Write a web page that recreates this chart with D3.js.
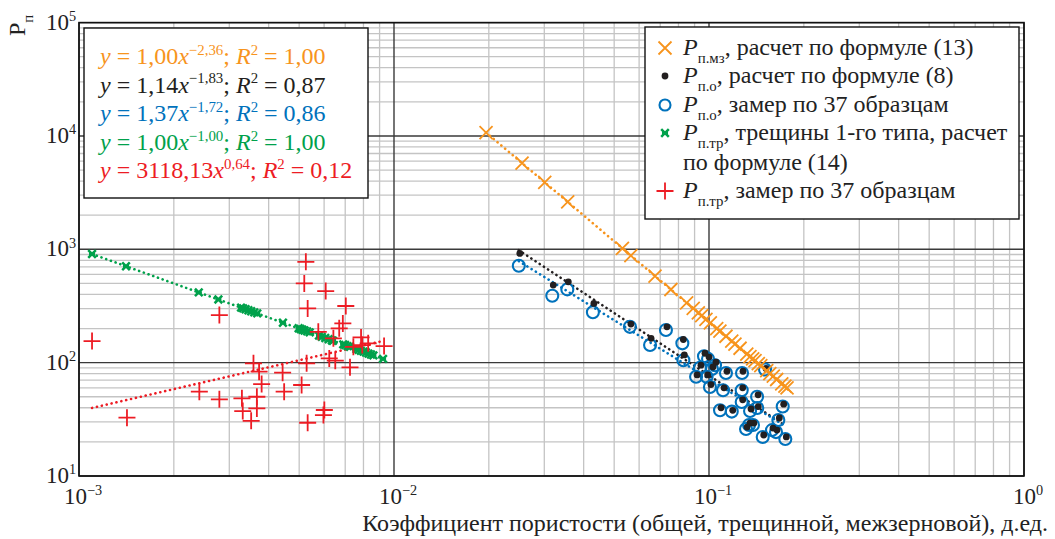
<!DOCTYPE html>
<html>
<head>
<meta charset="utf-8">
<script src="https://cdn.jsdelivr.net/npm/d3@7"></script>
<style>
  body { margin: 0; background: #fff; }
  svg { display: block; font-family: "Liberation Serif", "Times New Roman", serif; }
</style>
</head>
<body>
<svg id="chart" width="1055" height="539"></svg>
<script>
// --- data ---
// P п.мз, расчет по формуле (13)
var mzX = [0.0196, 0.0255, 0.0301, 0.0356, 0.0531, 0.0565, 0.0674, 0.0757, 0.0849, 0.0891, 0.0925, 0.0948, 0.0978, 0.1010,
           0.1058, 0.1083, 0.1132, 0.1181, 0.1209, 0.1255, 0.1318, 0.1349, 0.1376, 0.1400, 0.1434, 0.1460, 0.1525, 0.1560,
           0.1600, 0.1640, 0.1702, 0.1742, 0.1769];
var mzY = [10720, 5745, 3886, 2619, 1020, 881, 581, 442, 337, 301, 275, 260, 241, 224,
           200, 190, 171, 155, 146, 134, 119, 113, 108, 104, 98, 94, 85, 80,
           76, 71, 65, 62, 60];

// P п.о: x общая пористость, расчет (8) и замер
var poX = [0.0249, 0.0318, 0.0355, 0.0428, 0.0561, 0.0650, 0.0730, 0.0823, 0.0829, 0.0910, 0.0993, 0.1045, 0.0983,
           0.1007, 0.1132, 0.1108, 0.1273, 0.1270, 0.1421, 0.1506, 0.1084, 0.1181, 0.1270, 0.1350, 0.1423, 0.1714,
           0.1660, 0.1340, 0.1379, 0.1481, 0.1632, 0.1747, 0.0964, 0.1022, 0.1311, 0.0936, 0.1585];
var poCalcY = [920, 483, 517, 333, 219, 164, 207, 160, 117, 78, 112, 101, 78,
               64, 84, 60, 84, 60, 52, 89, 40, 38, 47, 39, 41, 43,
               32.5, 29.3, 29.3, 23.0, 25.4, 22.1, 121, 91.5, 27.0, 95, 26.5];
var poMeasY = [715, 389, 443, 278, 207, 143, 194, 148, 105, 75, 108, 95, 75,
               61, 81, 57, 81, 57, 50, 87, 38, 37, 45, 37.4, 39.8, 41,
               31.2, 28.2, 28.2, 22.1, 24.4, 21.2, 114, 88, 26.0, 90, 25.4];

// P п.тр, трещины 1-го типа, расчет (14)
var trX = [0.00110, 0.00141, 0.00240, 0.00277, 0.00327, 0.00332, 0.00338, 0.00345, 0.00352, 0.00360, 0.00368, 0.00444,
           0.00498, 0.00505, 0.00512, 0.00520, 0.00530, 0.00540, 0.00578, 0.00590, 0.00605, 0.00620, 0.00635, 0.00640,
           0.00690, 0.00700, 0.00712, 0.00725, 0.00760, 0.00772, 0.00785, 0.00800, 0.00815, 0.00830, 0.00845, 0.00860, 0.00923];
var trY = [909, 709, 417, 361, 306, 301, 296, 290, 284, 278, 272, 225,
           201, 198, 195, 192, 189, 185, 173, 169, 165, 161, 157, 156,
           145, 143, 140, 138, 132, 130, 127, 125, 123, 120, 118, 116, 108];

// P п.тр, замер по 37 образцам
var trMeasX = [0.00110, 0.00142, 0.00279, 0.00241, 0.00279, 0.00329, 0.00331, 0.00358, 0.00373, 0.00367, 0.00367, 0.00352,
               0.00380, 0.00443, 0.00448, 0.00509, 0.00528, 0.00532, 0.00601, 0.00597, 0.00525, 0.00519, 0.00607, 0.00532,
               0.00703, 0.00688, 0.00670, 0.00575, 0.00642, 0.00623, 0.00651, 0.00725, 0.00786, 0.00793, 0.00828, 0.00930, 0.00743];
var trMeasY = [155, 32.7, 263, 55.4, 47.5, 48.4, 37.4, 98.6, 83.2, 50.0, 39.5, 30.7,
               64.7, 81.5, 55.4, 63.5, 98.6, 29.5, 38.2, 34.5, 776, 500, 428, 301,
               316, 222, 201, 187, 164, 109, 104, 90.9, 167, 143, 148, 140, 138];

// линии тренда: y = a * x^b (из подписей на графике), диапазон x
var fitNames = ["mz", "poCalc", "poMeas", "tr", "trMeas"];
var fitA = [1.00, 1.14, 1.37, 1.00, 3118.13];
var fitB = [-2.36, -1.83, -1.72, -1.00, 0.64];
var fitFrom = [0.0196, 0.0249, 0.0249, 0.00110, 0.00110];
var fitTo = [0.1769, 0.1747, 0.1747, 0.00923, 0.00930];

var colOrange = "#f7941d", colBlack = "#231f20", colBlue = "#0072bc", colGreen = "#00a14b", colRed = "#ed1c24";
var fitColors = [colOrange, colBlack, colBlue, colGreen, colRed];

// подписи уравнений (левая рамка)
var eqA = ["1,00", "1,14", "1,37", "1,00", "3118,13"];
var eqB = ["\u22122,36", "\u22121,83", "\u22121,72", "\u22121,00", "0,64"];
var eqR2 = ["1,00", "0,87", "0,86", "1,00", "0,12"];
var eqColors = [colOrange, colBlack, colBlue, colGreen, colRed];

var xTickExp = [-3, -2, -1, 0];
var yTickExp = [1, 2, 3, 4, 5];
var xTitle = "Коэффициент пористости (общей, трещинной, межзерновой), д.ед.";

// --- chart ---
var svg = d3.select("#chart");
var pLeft = 79, pRight = 1024, pTop = 22.6, pBottom = 476;

var x = d3.scaleLog().domain([1e-3, 1]).range([pLeft, pRight]);
var y = d3.scaleLog().domain([10, 1e5]).range([pBottom, pTop]);

// текст с верхними/нижними индексами
function rich(sel, parts, size) {
    var shift = 0;
    parts.forEach(function(p) {
        var t = sel.append("tspan").text(p.t);
        var target = p.sup ? -0.38 * size : (p.sub ? 0.33 * size : 0);
        if (target !== shift) t.attr("dy", target - shift);
        shift = target;
        if (p.sup || p.sub) t.attr("font-size", size * 0.62);
        if (p.it) t.attr("font-style", "italic");
    });
}

// сетка
var grid = svg.append("g");
var xMinor = [], yMinor = [];
for (var e = -3; e < 0; e++) for (var k = 2; k <= 9; k++) xMinor.push(k * Math.pow(10, e));
for (var e2 = 1; e2 < 5; e2++) for (var k2 = 2; k2 <= 9; k2++) yMinor.push(k2 * Math.pow(10, e2));

grid.selectAll(".xm").data(xMinor).enter().append("line")
    .attr("x1", d => x(d)).attr("x2", d => x(d)).attr("y1", pTop).attr("y2", pBottom)
    .attr("stroke", "#c4c4c4").attr("stroke-width", 1.3);
grid.selectAll(".ym").data(yMinor).enter().append("line")
    .attr("y1", d => y(d)).attr("y2", d => y(d)).attr("x1", pLeft).attr("x2", pRight)
    .attr("stroke", "#c4c4c4").attr("stroke-width", 1.3);
grid.selectAll(".xM").data(xTickExp).enter().append("line")
    .attr("x1", d => x(Math.pow(10, d))).attr("x2", d => x(Math.pow(10, d))).attr("y1", pTop).attr("y2", pBottom)
    .attr("stroke", "#3a3a3a").attr("stroke-width", 1.4);
grid.selectAll(".yM").data(yTickExp).enter().append("line")
    .attr("y1", d => y(Math.pow(10, d))).attr("y2", d => y(Math.pow(10, d))).attr("x1", pLeft).attr("x2", pRight)
    .attr("stroke", "#3a3a3a").attr("stroke-width", 1.4);

svg.append("rect").attr("x", pLeft).attr("y", pTop).attr("width", pRight - pLeft).attr("height", pBottom - pTop)
    .attr("fill", "none").attr("stroke", "#111").attr("stroke-width", 1.6);

// подписи осей
xTickExp.forEach(function(d) {
    var t = svg.append("text").attr("x", x(Math.pow(10, d)) + 4).attr("y", 504)
        .attr("text-anchor", "middle").attr("font-size", 23).attr("fill", "#222");
    rich(t, [{t: "10"}, {t: d === 0 ? "0" : "\u2212" + (-d), sup: true}], 23);
});
yTickExp.forEach(function(d) {
    var t = svg.append("text").attr("x", 76).attr("y", y(Math.pow(10, d)) + 7)
        .attr("text-anchor", "end").attr("font-size", 23).attr("fill", "#222");
    rich(t, [{t: "10"}, {t: String(d), sup: true}], 23);
});
svg.append("text").attr("x", 1048).attr("y", 531).attr("text-anchor", "end")
    .attr("font-size", 24).attr("fill", "#222").text(xTitle);
var yt = svg.append("text").attr("transform", "translate(25,36) rotate(-90)")
    .attr("font-size", 24).attr("fill", "#222");
rich(yt, [{t: "P"}, {t: "п", sub: true}], 24);

// линии тренда
var line = d3.line().x(d => x(d[0])).y(d => y(d[1]));
fitNames.forEach(function(n, i) {
    var pts = [fitFrom[i], fitTo[i]].map(v => [v, fitA[i] * Math.pow(v, fitB[i])]);
    svg.append("path").attr("d", line(pts)).attr("fill", "none")
        .attr("stroke", fitColors[i]).attr("stroke-width", 2.6)
        .attr("stroke-linecap", "round").attr("stroke-dasharray", "0.1,4.9");
});

// маркеры
function markX(g, s, c, w) { return g.append("path").attr("d", `M${-s},${-s}L${s},${s}M${-s},${s}L${s},${-s}`).attr("stroke", c).attr("stroke-width", w).attr("fill", "none"); }
function markPlus(g, s, c, w) { return g.append("path").attr("d", `M${-s},0L${s},0M0,${-s}L0,${s}`).attr("stroke", c).attr("stroke-width", w).attr("fill", "none"); }
function markStar(g, s, c) {
    g.append("path").attr("d", `M${-s},${-s}L${s},${s}M${-s},${s}L${s},${-s}M${-s * 0.8},0L${s * 0.8},0`).attr("stroke", c).attr("stroke-width", 2.5).attr("fill", "none");
}

var gTr = svg.append("g");
trX.forEach(function(v, i) { markStar(gTr.append("g").attr("transform", `translate(${x(v)},${y(trY[i])})`), 3.8, colGreen); });

var gTrM = svg.append("g");
trMeasX.forEach(function(v, i) { markPlus(gTrM.append("g").attr("transform", `translate(${x(v)},${y(trMeasY[i])})`), 8.5, colRed, 1.8); });

svg.append("g").selectAll("circle").data(poX).enter().append("circle")
    .attr("cx", d => x(d)).attr("cy", (d, i) => y(poMeasY[i])).attr("r", 6)
    .attr("fill", "none").attr("stroke", colBlue).attr("stroke-width", 2.1);
svg.append("g").selectAll("circle").data(poX).enter().append("circle")
    .attr("cx", d => x(d) + 1).attr("cy", (d, i) => y(poCalcY[i])).attr("r", 3.4)
    .attr("fill", colBlack);

var gMz = svg.append("g");
mzX.forEach(function(v, i) { markX(gMz.append("g").attr("transform", `translate(${x(v)},${y(mzY[i])})`), 6.5, colOrange, 1.8); });

// левая рамка с уравнениями
svg.append("rect").attr("x", 84).attr("y", 28).attr("width", 284).attr("height", 170)
    .attr("fill", "#fff").attr("stroke", "#111").attr("stroke-width", 1.4);
eqA.forEach(function(a, i) {
    var t = svg.append("text").attr("x", 100).attr("y", 64 + i * 28.6).attr("font-size", 24).attr("fill", eqColors[i]);
    rich(t, [{t: "y", it: true}, {t: " = " + a}, {t: "x", it: true}, {t: eqB[i], sup: true},
             {t: "; "}, {t: "R", it: true}, {t: "2", sup: true}, {t: " = " + eqR2[i]}], 24);
});

// правая легенда
svg.append("rect").attr("x", 645).attr("y", 27).attr("width", 374).attr("height", 192)
    .attr("fill", "#fff").attr("stroke", "#111").attr("stroke-width", 1.4);
var legSub = ["п.мз", "п.о", "п.о", "п.тр", "п.тр"];
var legText = [", расчет по формуле (13)", ", расчет по формуле (8)", ", замер по 37 образцам",
               ", трещины 1-го типа, расчет", ", замер по 37 образцам"];
var legBase = [55, 83, 112, 140, 198];
legSub.forEach(function(s, i) {
    var cy = legBase[i] - 7;
    var g = svg.append("g").attr("transform", `translate(665,${cy})`);
    if (i === 0) markX(g, 6.5, colOrange, 1.8);
    if (i === 1) g.append("circle").attr("r", 3.4).attr("fill", colBlack);
    if (i === 2) g.append("circle").attr("r", 5.5).attr("fill", "none").attr("stroke", colBlue).attr("stroke-width", 2.1);
    if (i === 3) markStar(g, 3.8, colGreen);
    if (i === 4) markPlus(g, 8.5, colRed, 1.8);
    var t = svg.append("text").attr("x", 683).attr("y", legBase[i]).attr("font-size", 24).attr("fill", "#222");
    rich(t, [{t: "P", it: true}, {t: s, sub: true}, {t: legText[i]}], 24);
});
svg.append("text").attr("x", 683).attr("y", 170).attr("font-size", 24).attr("fill", "#222").text("по формуле (14)");
</script>
</body>
</html>
